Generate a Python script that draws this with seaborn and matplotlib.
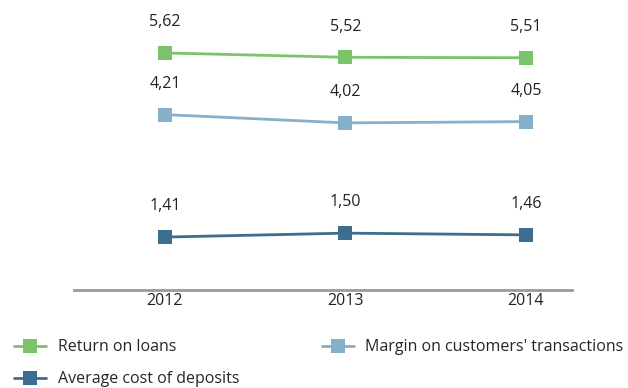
import seaborn as sns
import matplotlib.pyplot as plt
import pandas as pd

# data
years = ['2012', '2013', '2014']
returnOnLoans = [5.62, 5.52, 5.51]
marginCustomers = [4.21, 4.02, 4.05]
avgCostDeposits = [1.41, 1.50, 1.46]

seriesNames = ['Return on loans', "Margin on customers' transactions", 'Average cost of deposits']
seriesValues = [returnOnLoans, marginCustomers, avgCostDeposits]
seriesColors = ['#7cc46c', '#84b0c9', '#3d6d8f']

sns.set_style("white")
plt.rcParams['font.family'] = ['Open Sans', 'DejaVu Sans']

fig = plt.figure(figsize=(6.28, 3.88), dpi=100)
ax = fig.add_axes([74/628, 1 - 290/388, (572-74)/628, 290/388])

for name, vals, col in zip(seriesNames, seriesValues, seriesColors):
    df = pd.DataFrame({'x': range(len(years)), 'y': vals})
    sns.lineplot(data=df, x='x', y='y', ax=ax, color=col, linewidth=2,
                 marker='s', markersize=10, markeredgewidth=0, label=name)
    for i, v in enumerate(vals):
        ax.text(i, v + 0.52, ('%.2f' % v).replace('.', ','), ha='center', va='bottom',
                fontsize=11.5, color='#222222')

ax.set_xlim(-0.504, 2.255)
ax.set_ylim(0.2, 6.83)
ax.set_xticks(range(len(years)))
ax.set_xticklabels(years, fontsize=11.5, color='#222222')
ax.set_yticks([])
ax.set_xlabel('')
ax.set_ylabel('')
ax.tick_params(axis='x', length=0, pad=2)
for s in ['top', 'right', 'left']:
    ax.spines[s].set_visible(False)
ax.spines['bottom'].set_color('#9a9a9a')
ax.spines['bottom'].set_linewidth(2)

h, l = ax.get_legend_handles_labels()
ax.get_legend().remove()
order = [0, 2, 1]
fig.legend([h[i] for i in order], [l[i] for i in order], ncol=2, loc='lower left',
           bbox_to_anchor=(0.0, -0.035), frameon=False, fontsize=11.5,
           handlelength=2.0, columnspacing=5.2, labelspacing=1.0, handletextpad=0.7)

plt.savefig('out.png', dpi=100)
